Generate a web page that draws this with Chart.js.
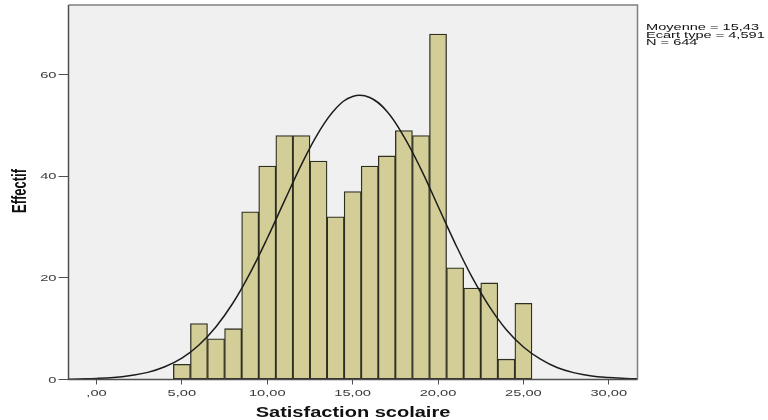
<!DOCTYPE html>
<html>
<head>
<meta charset="utf-8">
<script src="https://cdn.jsdelivr.net/npm/chart.js@4.4.0/dist/chart.umd.min.js"></script>
<style>
  body{margin:0;background:#fff;}
</style>
</head>
<body>
<canvas id="histo" width="768" height="420"></canvas>
<script>
// histogram bins (centre of each 1-unit class) and counts
const bins = [5,6,7,8,9,10,11,12,13,14,15,16,17,18,19,20,21,22,23,24,25];
const counts = [3,11,8,10,33,42,48,48,43,32,37,42,44,49,48,68,22,18,19,4,15];

// normal curve
const curveX = [-2,-1,0,1,2,3,4,5,6,7,8,9,10,11,12,13,14,15,16,17,18,19,20,21,22,23,24,25,26,27,28,29,30,31,32];
const curveY = [0.0,0.1,0.2,0.4,0.8,1.4,2.5,4.2,6.8,10.4,15.1,21.0,27.8,35.1,42.3,48.6,53.3,55.7,55.5,52.8,47.8,41.4,34.1,26.8,20.1,14.4,9.8,6.4,4.0,2.3,1.3,0.7,0.4,0.2,0.1];

const xTicks = [0,5,10,15,20,25,30];
const yTicks = [0,20,40,60];
const statsLines = ['Moyenne = 15,43','Ecart type = 4,591','N = 644'];
const xTitle = 'Satisfaction scolaire';
const yTitle = 'Effectif';

const fmtX = v => { let s = v.toFixed(2).replace('.',','); return s.startsWith('0,') ? s.slice(1) : s; };

function stretchText(ctx, txt, x, y, align, sx){
  ctx.save();
  ctx.translate(x,y);
  ctx.scale(sx,1);
  ctx.textAlign = align;
  ctx.textBaseline = 'alphabetic';
  ctx.fillText(txt,0,0);
  ctx.restore();
}

const frame = {
  id:'frame',
  beforeDraw(chart){
    const {ctx, chartArea:a} = chart;
    ctx.save();
    ctx.fillStyle = '#f0f0f0';
    ctx.fillRect(a.left, a.top, a.right-a.left, a.bottom-a.top);
    ctx.restore();
  },
  afterDraw(chart){
    const {ctx, chartArea:a, scales} = chart;
    ctx.save();
    ctx.strokeStyle = '#808080';
    ctx.lineWidth = 1.5;
    ctx.beginPath();
    ctx.moveTo(a.left, a.top); ctx.lineTo(a.right, a.top); ctx.lineTo(a.right, a.bottom);
    ctx.stroke();
    ctx.strokeStyle = '#505050';
    ctx.beginPath();
    ctx.moveTo(a.left, a.top); ctx.lineTo(a.left, a.bottom); ctx.lineTo(a.right, a.bottom);
    ctx.stroke();

    // tick labels (the picture has horizontally stretched text)
    ctx.fillStyle = '#3a3a3a';
    ctx.font = '9px "Liberation Sans", Arial, sans-serif';
    scales.x.ticks.forEach(t => stretchText(ctx, fmtX(t.value), scales.x.getPixelForValue(t.value), 395.7, 'center', 1.63));
    scales.y.ticks.forEach(t => stretchText(ctx, String(t.value), 56.5, scales.y.getPixelForValue(t.value)+3.2, 'right', 1.63));

    // stats box
    ctx.fillStyle = '#111';
    statsLines.forEach((s,i) => stretchText(ctx, s, 646, 30.2 + i*7.6, 'left', 1.62));

    // axis titles
    ctx.font = 'bold 14px "Liberation Sans", Arial, sans-serif';
    stretchText(ctx, xTitle, (a.left+a.right)/2, 416.5, 'center', 1.43);
    ctx.save();
    ctx.translate(26, 191);
    ctx.rotate(-Math.PI/2);
    ctx.scale(1, 1.5);
    ctx.font = 'bold 13px "Liberation Sans", Arial, sans-serif';
    ctx.textAlign = 'center';
    ctx.fillText(yTitle, 0, 0);
    ctx.restore();
    ctx.restore();
  }
};

new Chart(document.getElementById('histo').getContext('2d'), {
  type:'bar',
  data:{
    datasets:[
      {type:'line', label:'Normale', data:curveX.map((x,i)=>({x, y:curveY[i]})),
       borderColor:'#1c1c1c', borderWidth:1.5, pointRadius:0, tension:0.4, fill:false, order:0},
      {type:'bar', label:'Effectif', data:bins.map((x,i)=>({x, y:counts[i]})),
       backgroundColor:'#d3ce97', borderColor:'#2e2e22', borderWidth:1.3, borderSkipped:false,
       barPercentage:1, categoryPercentage:1, order:1}
    ]
  },
  options:{
    responsive:false,
    animation:false,
    layout:{padding:{top:5, right:130.5, left:0, bottom:0}},
    plugins:{legend:{display:false}, tooltip:{enabled:false}},
    scales:{
      x:{type:'linear', min:-1.64, max:31.68, offset:false,
         afterBuildTicks:s=>{ s.ticks = xTicks.map(v=>({value:v})); },
         afterFit:s=>{ s.height = 40.5; },
         ticks:{display:false},
         grid:{offset:false, drawOnChartArea:false, drawTicks:true, tickLength:5, color:'#505050', lineWidth:1},
         border:{display:false}},
      y:{type:'linear', min:0, max:73.7,
         afterBuildTicks:s=>{ s.ticks = yTicks.map(v=>({value:v})); },
         afterFit:s=>{ s.width = 68.5; },
         ticks:{display:false},
         grid:{drawOnChartArea:false, drawTicks:true, tickLength:10, color:'#505050', lineWidth:1},
         border:{display:false}}
    }
  },
  plugins:[frame]
});
</script>
</body>
</html>
